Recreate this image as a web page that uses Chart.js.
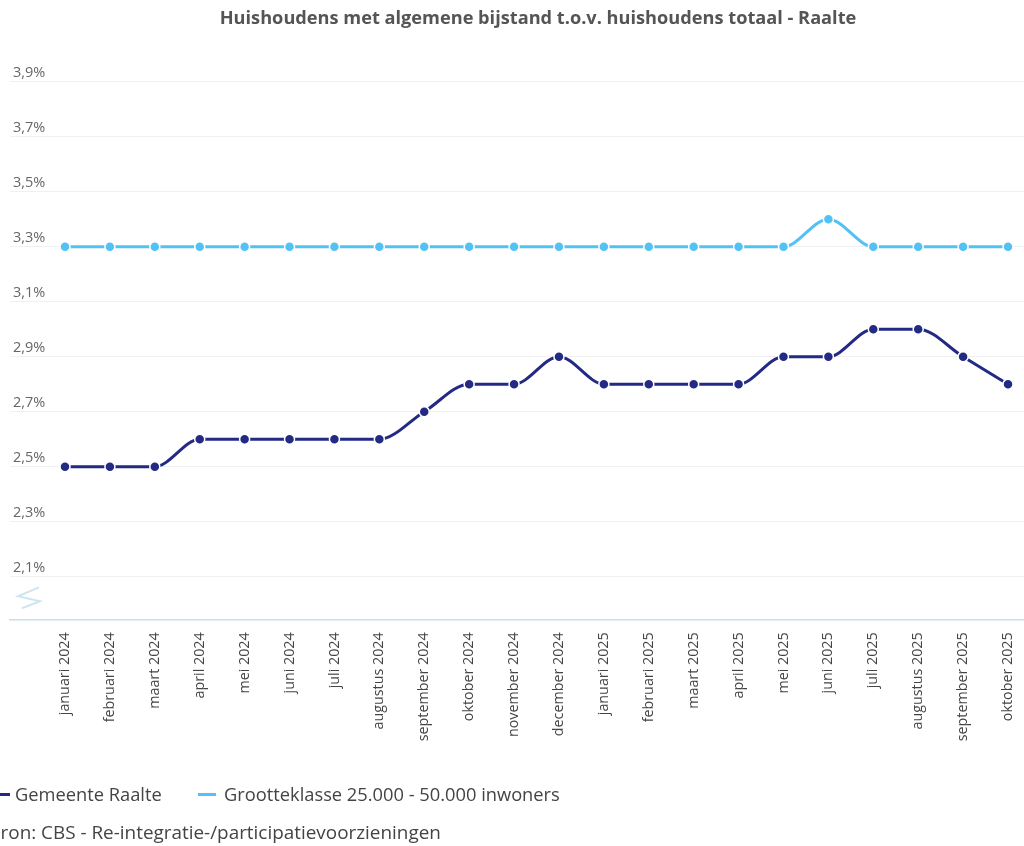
<!DOCTYPE html>
<html>
<head>
<meta charset="utf-8">
<script src="https://cdn.jsdelivr.net/npm/chart.js@4"></script>
<style>
  html, body { margin: 0; padding: 0; background: #fff; }
  #wrap { position: relative; width: 1024px; height: 846px; overflow: hidden; font-family: "Open Sans", sans-serif; }
  #chart { position: absolute; left: 0; top: 0; }
  #title { position: absolute; left: 0; top: 5px; width: 1076px; text-align: center; font: bold 18.2px "Open Sans", sans-serif; color: #555; }
  .leg { position: absolute; top: 781px; font-size: 18.3px; color: #444; white-space: nowrap; }
  .sym { position: absolute; top: 12px; height: 3px; }
  #source { position: absolute; left: -11px; top: 819px; font-size: 18.9px; color: #444; white-space: nowrap; }
</style>
</head>
<body>
<div id="wrap">
  <canvas id="chart" width="1024" height="846"></canvas>
  <div id="title">Huishoudens met algemene bijstand t.o.v. huishoudens totaal - Raalte</div>
  <div class="leg" style="left:15px"><span class="sym" style="left:-25px;width:20px;background:#232a84"></span>Gemeente Raalte</div>
  <div class="leg" style="left:224px"><span class="sym" style="left:-26px;width:18px;background:#52c2f4"></span>Grootteklasse 25.000 - 50.000 inwoners</div>
  <div id="source">bron: CBS - Re-integratie-/participatievoorzieningen</div>
</div>
<script>
const categories = ["januari 2024","februari 2024","maart 2024","april 2024","mei 2024","juni 2024","juli 2024","augustus 2024","september 2024","oktober 2024","november 2024","december 2024","januari 2025","februari 2025","maart 2025","april 2025","mei 2025","juni 2025","juli 2025","augustus 2025","september 2025","oktober 2025"];
const raalte = [2.5,2.5,2.5,2.6,2.6,2.6,2.6,2.6,2.7,2.8,2.8,2.9,2.8,2.8,2.8,2.8,2.9,2.9,3.0,3.0,2.9,2.8];
const grootteklasse = [3.3,3.3,3.3,3.3,3.3,3.3,3.3,3.3,3.3,3.3,3.3,3.3,3.3,3.3,3.3,3.3,3.3,3.4,3.3,3.3,3.3,3.3];
const yTicks = [2.1,2.3,2.5,2.7,2.9,3.1,3.3,3.5,3.7,3.9];

const toPts = arr => arr.map((v, i) => ({x: i, y: v}));

const breakPlugin = {
  id: 'axisBreak',
  afterDraw(chart) {
    const {ctx, chartArea} = chart;
    const x = chartArea.left, b = chartArea.bottom;
    ctx.save();
    ctx.strokeStyle = '#cfe5ef';
    ctx.lineWidth = 2;
    ctx.beginPath();
    ctx.moveTo(x + 29, b - 32);
    ctx.lineTo(x + 8, b - 23);
    ctx.lineTo(x + 30, b - 18);
    ctx.lineTo(x + 12, b - 11);
    ctx.stroke();
    ctx.restore();
  }
};

const common = {
  borderWidth: 3,
  pointRadius: 5,
  pointHoverRadius: 5,
  pointBorderColor: '#ffffff',
  pointBorderWidth: 1.5,
  cubicInterpolationMode: 'monotone',
  fill: false,
  clip: false
};

new Chart(document.getElementById('chart'), {
  type: 'line',
  data: {
    datasets: [
      Object.assign({label: 'Gemeente Raalte', data: toPts(raalte), borderColor: '#232a84', pointBackgroundColor: '#232a84'}, common),
      Object.assign({label: 'Grootteklasse 25.000 - 50.000 inwoners', data: toPts(grootteklasse), borderColor: '#52c2f4', pointBackgroundColor: '#52c2f4'}, common)
    ]
  },
  plugins: [breakPlugin],
  options: {
    responsive: false,
    animation: false,
    layout: { autoPadding: false, padding: { left: 10, right: 0, top: 81.7, bottom: 0 } },
    plugins: { legend: { display: false }, title: { display: false }, tooltip: { enabled: false } },
    scales: {
      x: {
        type: 'linear',
        min: -1.2248,
        max: 21.356,
        afterBuildTicks: s => { s.ticks = categories.map((c, i) => ({value: i})); },
        afterFit: s => { s.height = 846 - 619.3; s.paddingLeft = 0; s.paddingRight = 0; },
        grid: { display: false, drawTicks: false },
        border: { display: true, color: '#c8dfe9', width: 1.5 },
        ticks: {
          autoSkip: false,
          minRotation: 90,
          maxRotation: 90,
          padding: 13,
          color: '#444',
          font: { family: 'Open Sans', size: 14.3 },
          callback: v => categories[v]
        }
      },
      y: {
        min: 1.945,
        max: 3.9,
        afterBuildTicks: s => { s.ticks = yTicks.map(v => ({value: v})); },
        afterFit: s => { s.width = 0; s.paddingTop = 0; s.paddingBottom = 0; },
        grid: { color: '#f0f0f0', lineWidth: 1, drawTicks: false },
        border: { display: false },
        ticks: {
          mirror: true,
          crossAlign: 'near',
          padding: 3,
          labelOffset: -9,
          color: '#666',
          font: { family: 'Open Sans', size: 14.5 },
          callback: v => v.toFixed(1).replace('.', ',') + '%'
        }
      }
    }
  }
});
</script>
</body>
</html>
